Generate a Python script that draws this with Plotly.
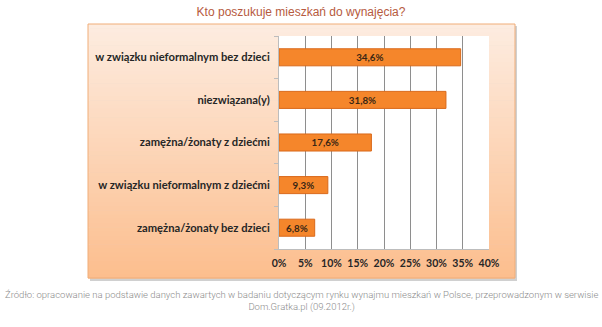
import plotly.graph_objects as go

# Survey answers (top to bottom) and their shares in percent
categories = [
    "w związku nieformalnym bez dzieci",
    "niezwiązana(y)",
    "zamężna/żonaty z dziećmi",
    "w związku nieformalnym z dziećmi",
    "zamężna/żonaty bez dzieci",
]
shares = [34.6, 31.8, 17.6, 9.3, 6.8]
x_ticks = [0, 5, 10, 15, 20, 25, 30, 35, 40]
x_tick_labels = [f"{v}%" for v in x_ticks]
bar_labels = [f"{v:.1f}%".replace(".", ",") for v in shares]

title_text = "Kto poszukuje mieszkań do wynajęcia?"
source_text = ("Źródło: opracowanie na podstawie danych zawartych w badaniu dotyczącym rynku "
               "wynajmu mieszkań w Polsce, przeprowadzonym w serwisie<br>Dom.Gratka.pl (09.2012r.)")

W, H = 602, 327

def px(x):
    return x / W

def py(y):
    return 1 - y / H

fig = go.Figure()
fig.add_trace(go.Bar(
    x=shares,
    y=categories,
    orientation="h",
    marker=dict(color="#f5862b", line=dict(color="#d9691a", width=1)),
    text=bar_labels,
    textposition="inside",
    insidetextanchor="middle",
    textangle=0,
    textfont=dict(family="Lato", size=11.5, color="#3a2614", weight="bold"),
    cliponaxis=False,
    hoverinfo="skip",
))

shapes = []
# drop shadow of the chart box
shapes.append(dict(type="rect", xref="paper", yref="paper",
                   x0=px(90), x1=px(517), y0=py(26), y1=py(281),
                   fillcolor="rgba(120,120,120,0.35)", line=dict(width=0), layer="below"))
# vertical gradient fill of the chart box, light peach to orange
top = (253, 236, 224)
bottom = (252, 190, 142)
n = 60
y_top, y_bot = 24, 278
for i in range(n):
    t = i / (n - 1)
    c = tuple(round(top[k] + (bottom[k] - top[k]) * t) for k in range(3))
    ya = y_top + (y_bot - y_top) * i / n
    yb = y_top + (y_bot - y_top) * (i + 1) / n
    shapes.append(dict(type="rect", xref="paper", yref="paper",
                       x0=px(88), x1=px(515), y0=py(ya), y1=py(yb + 0.6),
                       fillcolor="rgb(%d,%d,%d)" % c, line=dict(width=0), layer="below"))
# box outline
shapes.append(dict(type="rect", xref="paper", yref="paper",
                   x0=px(88), x1=px(515), y0=py(24), y1=py(278),
                   fillcolor="rgba(0,0,0,0)", line=dict(color="#f0ad78", width=1), layer="below"))
# white plotting area
shapes.append(dict(type="rect", xref="paper", yref="paper",
                   x0=px(279), x1=px(489), y0=py(36), y1=py(249),
                   fillcolor="white", line=dict(width=0), layer="below"))

fig.update_layout(
    width=W, height=H,
    autosize=False,
    margin=dict(l=0, r=0, t=0, b=0, pad=0),
    paper_bgcolor="white",
    plot_bgcolor="rgba(0,0,0,0)",
    showlegend=False,
    bargap=0.6,
    shapes=shapes,
    title=dict(text=title_text, x=0.5, xanchor="center", y=py(12), yanchor="middle",
               automargin=False,
               font=dict(family="Liberation Sans", size=12, color="#b65a40")),
    xaxis=dict(
        domain=[px(279), px(489)],
        range=[0, 40],
        automargin=False,
        tickvals=x_ticks,
        ticktext=x_tick_labels,
        showgrid=True, gridcolor="#8e8e8e", gridwidth=1,
        zeroline=False,
        showline=True, linecolor="#bdbdbd", linewidth=1,
        ticks="", ticklabelstandoff=4,
        tickfont=dict(family="Lato", size=10.5, color="#262626", weight="bold"),
        fixedrange=True,
    ),
    yaxis=dict(
        domain=[py(249), py(36)],
        automargin=False,
        categoryorder="array",
        categoryarray=categories[::-1],
        showgrid=False, zeroline=False,
        showline=True, linecolor="#bdbdbd", linewidth=1,
        ticks="outside", ticklen=4, tickcolor="#bdbdbd", tickson="boundaries",
        ticklabelstandoff=6,
        tickfont=dict(family="Lato", size=11.2, color="#262626", weight="bold"),
        fixedrange=True,
    ),
    annotations=[dict(
        text=source_text, xref="paper", yref="paper",
        x=0.5, y=py(301), xanchor="center", yanchor="middle",
        showarrow=False, align="center",
        font=dict(family="Roboto", size=9.5, color="#8c8c8c", weight=300),
    )],
)

fig.write_html("out.html")
